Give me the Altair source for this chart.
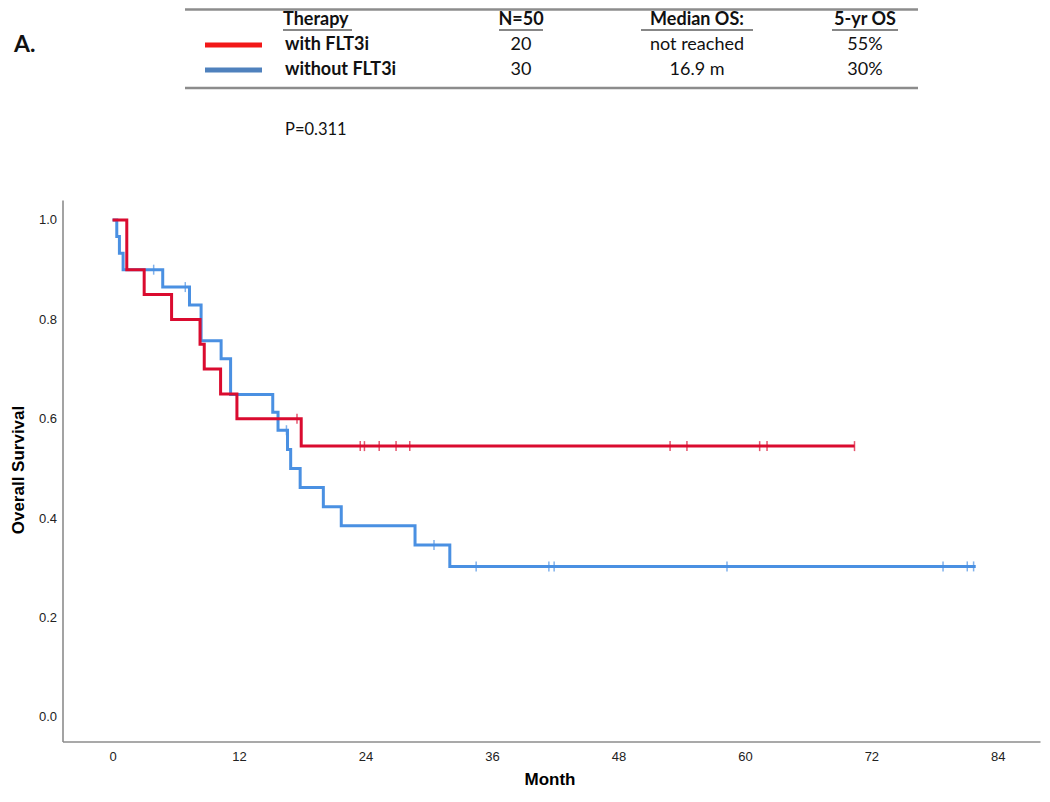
import altair as alt
import pandas as pd

# ---------------- data ----------------
# Kaplan-Meier step curves (time in months, survival proportion)
red_time = [0, 1.35, 3.0, 5.6, 8.3, 8.7, 10.25, 11.8, 17.9, 70.4]
red_surv = [1.0, 0.9, 0.85, 0.80, 0.75, 0.70, 0.65, 0.60, 0.545, 0.545]

blue_time = [0, 0.4, 0.65, 1.0, 4.76, 7.3, 8.4, 10.3, 11.2, 15.2, 15.7, 16.6,
             16.9, 17.8, 20.0, 21.7, 28.7, 32.0, 81.9]
blue_surv = [1.0, 0.967, 0.933, 0.9, 0.865, 0.829, 0.757, 0.721, 0.649, 0.613,
             0.577, 0.538, 0.5, 0.462, 0.423, 0.385, 0.346, 0.303, 0.303]

# censor marks
red_cens_time = [17.5, 23.5, 23.9, 25.3, 26.9, 28.2, 52.9, 54.5, 61.4, 62.1, 70.4]
red_cens_surv = [0.60, 0.545, 0.545, 0.545, 0.545, 0.545, 0.545, 0.545, 0.545, 0.545, 0.545]
blue_cens_time = [3.9, 6.9, 16.5, 30.5, 34.5, 41.4, 41.9, 58.3, 78.8, 81.1, 81.7]
blue_cens_surv = [0.9, 0.865, 0.577, 0.346, 0.303, 0.303, 0.303, 0.303, 0.303, 0.303, 0.303]

# header table
table_headers = ["Therapy", "N=50", "Median OS:", "5-yr OS"]
therapies = ["with FLT3i", "without FLT3i"]
n_values = ["20", "30"]
median_os = ["not reached", "16.9 m"]
five_yr_os = ["55%", "30%"]
p_value_text = "P=0.311"
panel_label = "A."

x_ticks = [0, 12, 24, 36, 48, 60, 72, 84]
y_ticks = [0.0, 0.2, 0.4, 0.6, 0.8, 1.0]

# ---------------- styling ----------------
RED = "#DA0B2F"
BLUE = "#4A90E2"
LEG_RED = "#F21818"
LEG_BLUE = "#4F81BD"
GRAY = "#8C8C8C"
HFONT = "Lato"
AFONT = "Liberation Sans"

X_DOMAIN = [-4.75, 88.0]
Y_DOMAIN = [-0.0493, 1.0402]
W, H = 977.5, 541.5

xs = alt.Scale(domain=X_DOMAIN, nice=False, zero=False)
ys = alt.Scale(domain=Y_DOMAIN, nice=False, zero=False)

red_df = pd.DataFrame({"t": red_time, "s": red_surv})
blue_df = pd.DataFrame({"t": blue_time, "s": blue_surv})
red_c = pd.DataFrame({"t": red_cens_time, "s": red_cens_surv})
blue_c = pd.DataFrame({"t": blue_cens_time, "s": blue_cens_surv})

X = alt.X("t:Q", scale=xs,
          axis=alt.Axis(values=x_ticks, title=None, grid=False, ticks=False,
                        domainColor=GRAY, domainWidth=1.6, labelFont=AFONT,
                        labelFontSize=13, labelColor="#222", labelPadding=9,
                        labelFlush=False))
Y = alt.Y("s:Q", scale=ys,
          axis=alt.Axis(values=y_ticks, format=".1f", title=None, grid=False,
                        ticks=False, domainColor=GRAY, domainWidth=1.6,
                        labelFont=AFONT, labelFontSize=13, labelColor="#222",
                        labelPadding=6, labelFlush=False))

blue_line = alt.Chart(blue_df).mark_line(
    interpolate="step-after", color=BLUE, strokeWidth=3).encode(x=X, y=Y)
blue_ticks = alt.Chart(blue_c).mark_tick(
    orient="vertical", color=BLUE, size=10, thickness=1.5).encode(
    x=alt.X("t:Q", scale=xs), y=alt.Y("s:Q", scale=ys))
red_line = alt.Chart(red_df).mark_line(
    interpolate="step-after", color=RED, strokeWidth=3).encode(
    x=alt.X("t:Q", scale=xs), y=alt.Y("s:Q", scale=ys))
red_ticks = alt.Chart(red_c).mark_tick(
    orient="vertical", color=RED, size=10, thickness=1.5).encode(
    x=alt.X("t:Q", scale=xs), y=alt.Y("s:Q", scale=ys))

one = pd.DataFrame({"k": [0]})

# page -> plot coordinates (plot origin at page (62.5, 200))
def px(v):
    return v - 62.5


def py(v):
    return v - 200


def txt(text, x, y, size=18, bold=False, align="left", font=HFONT, angle=0,
        color="#111"):
    kw = dict(text=text, fontSize=size, font=font, align=align,
              baseline="middle", color=color,
              fontWeight="bold" if bold else "normal")
    if angle:
        kw["angle"] = angle
    return alt.Chart(one).mark_text(**kw).encode(
        x=alt.value(px(x)), y=alt.value(py(y)))


def hrule(x1, x2, y, color, width):
    return alt.Chart(one).mark_rule(color=color, strokeWidth=width).encode(
        x=alt.value(px(x1)), x2=alt.value(px(x2)), y=alt.value(py(y)))


layers = [blue_line, blue_ticks, red_line, red_ticks]

# header table
col_x = [283, 521, 697, 865]
row_y = [45, 70]
layers.append(hrule(185, 918, 9.5, GRAY, 2.5))
layers.append(hrule(185, 918, 88, GRAY, 2.5))
layers.append(txt(panel_label, 14, 45, size=23, bold=True))

HEAD_Y = 20
layers.append(txt(table_headers[0], col_x[0], HEAD_Y, bold=True, align="left"))
for h, cx in zip(table_headers[1:], col_x[1:]):
    layers.append(txt(h, cx, HEAD_Y, bold=True, align="center"))
underlines = [(283, 352), (499, 543), (641, 753), (832, 898)]
for a, b in underlines:
    layers.append(hrule(a, b, 30, "#111", 1.2))

leg_colors = [LEG_RED, LEG_BLUE]
for i in range(2):
    layers.append(hrule(205, 262, row_y[i], leg_colors[i], 5))
    layers.append(txt(therapies[i], 285, row_y[i], bold=True, align="left"))
    layers.append(txt(n_values[i], col_x[1], row_y[i], align="center"))
    layers.append(txt(median_os[i], col_x[2], row_y[i], align="center"))
    layers.append(txt(five_yr_os[i], col_x[3], row_y[i], align="center"))

layers.append(txt(p_value_text, 285, 130, size=16.5, align="left"))

# axis titles
layers.append(txt("Overall Survival", 19, 470, size=17, bold=True,
                  align="center", font=AFONT, angle=270, color="#000"))
layers.append(txt("Month", 550, 780, size=17, bold=True, align="center",
                  font=AFONT, color="#000"))

chart = alt.layer(*layers).properties(
    width=W, height=H,
    padding={"left": 54.5, "top": 192, "right": 2, "bottom": 46.5},
    autosize=alt.AutoSizeParams(type="none"),
).configure_view(stroke=None)

chart.save("out.html", embed_options={"renderer": "svg", "actions": False})
